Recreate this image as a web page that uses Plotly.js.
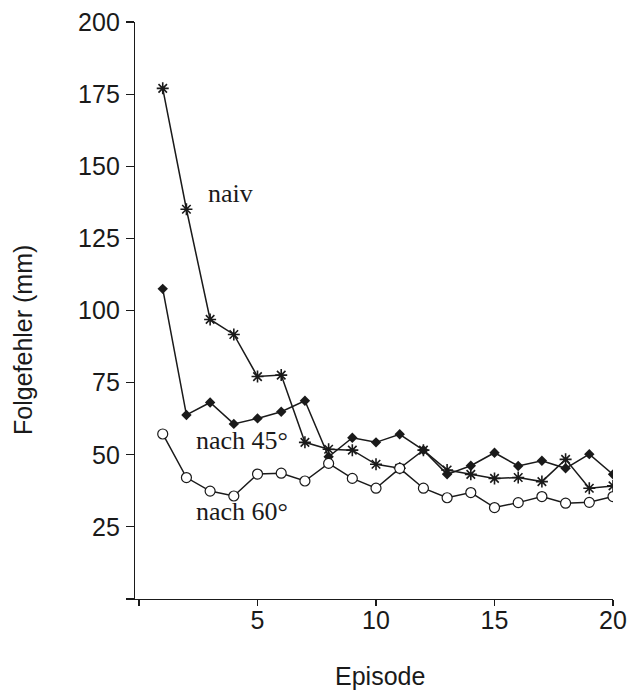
<!DOCTYPE html>
<html>
<head>
<meta charset="utf-8">
<script src="https://cdn.plot.ly/plotly-3.0.1.min.js"></script>
<style>html,body{margin:0;padding:0;background:#fff;}#chart{width:627px;height:690px;}</style>
</head>
<body>
<div id="chart"></div>
<script>
const episodes = [1,2,3,4,5,6,7,8,9,10,11,12,13,14,15,16,17,18,19,20];
const naiv   = [177.0,135.1,96.9,91.7,77.1,77.6,54.3,51.9,51.6,46.7,45.3,51.6,44.7,43.2,41.8,42.1,40.7,48.4,38.4,39.2];
const nach45 = [107.5,63.8,68.1,60.7,62.6,64.9,68.7,49.3,55.9,54.3,57.1,51.6,43.2,46.2,50.7,46.1,47.9,45.3,50.2,43.2];
const nach60 = [57.2,42.1,37.4,35.7,43.3,43.6,40.9,47.0,41.8,38.4,45.3,38.4,35.1,36.9,31.7,33.4,35.5,33.2,33.5,35.5];
const xTickVals = [0,5,10,15,20];
const xTickText = ['','5','10','15','20'];
const yTickVals = [0,25,50,75,100,125,150,175,200];
const yTickText = ['','25','50','75','100','125','150','175','200'];
const seriesLabels = ['naiv','nach 45°','nach 60°'];

const ink = '#1a1a1a';
const traces = [
  {x: episodes, y: nach45, mode: 'lines+markers', line: {color: ink, width: 1.5},
   marker: {symbol: 'diamond', size: 8, color: ink}, name: seriesLabels[1]},
  {x: episodes, y: naiv, mode: 'lines+markers', line: {color: ink, width: 1.5},
   marker: {symbol: 'asterisk-open', size: 10, color: ink, line: {color: ink, width: 1.6}}, name: seriesLabels[0]},
  {x: episodes, y: nach60, mode: 'lines+markers', line: {color: ink, width: 1.5},
   marker: {symbol: 'circle', size: 10, color: '#ffffff', line: {color: ink, width: 1.2}}, name: seriesLabels[2]}
];

const serif = {family: '"Liberation Serif", "Times New Roman", serif', size: 26, color: ink};
const sans = '"Liberation Sans", Arial, sans-serif';

const layout = {
  width: 627, height: 690,
  margin: {l: 135, r: 14, t: 22, b: 91},
  paper_bgcolor: '#fff', plot_bgcolor: '#fff',
  showlegend: false,
  font: {family: sans, color: ink},
  xaxis: {
    range: [-0.17, 20], tickvals: xTickVals, ticktext: xTickText,
    showgrid: false, zeroline: false, showline: true, linecolor: ink, linewidth: 1.2,
    ticks: 'outside', ticklen: 6, tickwidth: 1.2, tickcolor: ink,
    tickfont: {family: sans, size: 25, color: ink}, ticklabelstandoff: -7
  },
  yaxis: {
    range: [0, 200], tickvals: yTickVals, ticktext: yTickText,
    showgrid: false, zeroline: false, showline: true, linecolor: ink, linewidth: 1.2,
    ticks: 'outside', ticklen: 8, tickwidth: 1.2, tickcolor: ink,
    tickfont: {family: sans, size: 25, color: ink}, ticklabelstandoff: 1
  },
  annotations: [
    {x: 2.84, y: 140.4, xref: 'x', yref: 'y', text: seriesLabels[0], showarrow: false, xanchor: 'left', yanchor: 'middle', font: serif},
    {x: 2.34, y: 55.1, xref: 'x', yref: 'y', text: seriesLabels[1], showarrow: false, xanchor: 'left', yanchor: 'middle', font: serif},
    {x: 2.34, y: 30.2, xref: 'x', yref: 'y', text: seriesLabels[2], showarrow: false, xanchor: 'left', yanchor: 'middle', font: serif},
    {x: 380, y: 676, xref: 'paper', yref: 'paper', text: 'Episode', showarrow: false,
     font: {family: sans, size: 25, color: ink}, xanchor: 'center', yanchor: 'middle'},
    {x: 23, y: 340, text: 'Folgefehler (mm)', showarrow: false, textangle: -90,
     font: {family: sans, size: 25, color: ink}, xanchor: 'center', yanchor: 'middle'}
  ]
};
// convert pixel-placed title annotations to paper coords
const pw = 627 - 135 - 14, ph = 690 - 22 - 91;
layout.annotations[3].x = (380 - 135) / pw; layout.annotations[3].y = (690 - 91 - 676) / ph;
layout.annotations[4].xref = 'paper'; layout.annotations[4].yref = 'paper';
layout.annotations[4].x = (23 - 135) / pw; layout.annotations[4].y = (690 - 91 - 340) / ph;

Plotly.newPlot('chart', traces, layout, {staticPlot: true, displayModeBar: false});
</script>
</body>
</html>
